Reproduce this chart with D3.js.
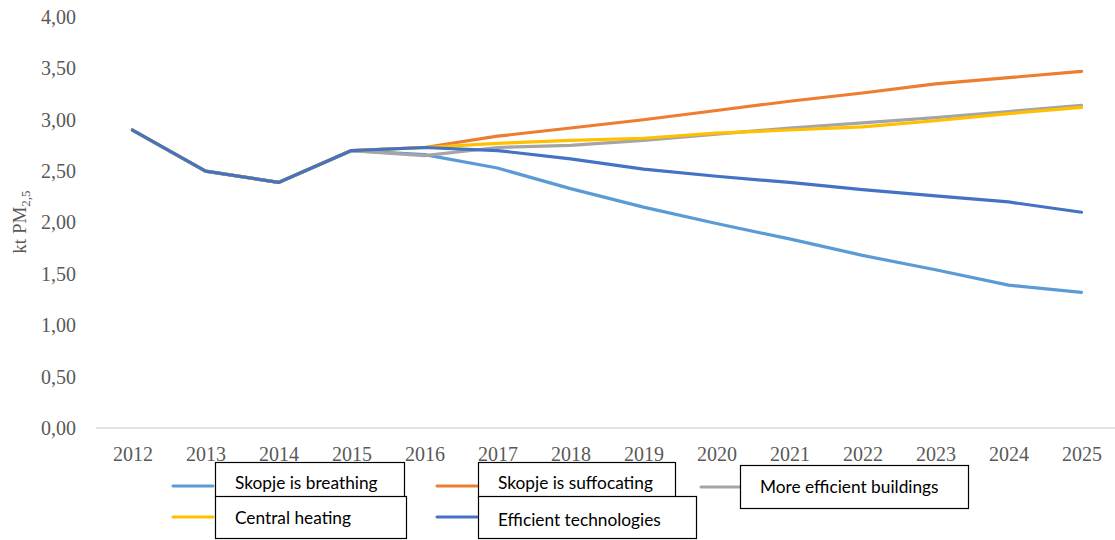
<!DOCTYPE html>
<html>
<head>
<meta charset="utf-8">
<script src="https://cdn.jsdelivr.net/npm/d3@7"></script>
<style>
  html, body { margin: 0; padding: 0; background: #fff; }
  svg { display: block; }
</style>
</head>
<body>
<svg id="chart" width="1115" height="540"></svg>
<script>
// PM2.5 emission scenarios for Skopje, kt per year
const years = ["2012","2013","2014","2015","2016","2017","2018","2019","2020","2021","2022","2023","2024","2025"];
const yTicks = [0, 0.5, 1, 1.5, 2, 2.5, 3, 3.5, 4];

const breathing    = [2.90, 2.50, 2.39, 2.70, 2.66, 2.53, 2.33, 2.15, 1.99, 1.84, 1.68, 1.54, 1.39, 1.32];
const suffocating  = [2.90, 2.50, 2.39, 2.70, 2.73, 2.84, 2.92, 3.00, 3.09, 3.18, 3.26, 3.35, 3.41, 3.47];
const buildings    = [2.90, 2.50, 2.39, 2.70, 2.65, 2.73, 2.75, 2.80, 2.86, 2.92, 2.97, 3.02, 3.08, 3.14];
const heating      = [2.90, 2.50, 2.39, 2.70, 2.73, 2.77, 2.80, 2.82, 2.87, 2.90, 2.93, 2.99, 3.06, 3.12];
const technologies = [2.90, 2.50, 2.39, 2.70, 2.73, 2.70, 2.62, 2.52, 2.45, 2.39, 2.32, 2.26, 2.20, 2.10];

const seriesNames  = ["Skopje is breathing", "Skopje is suffocating", "More efficient buildings", "Central heating", "Efficient technologies"];
const seriesColors = ["#5B9BD5", "#ED7D31", "#A5A5A5", "#FFC000", "#4472C4"];
const seriesValues = [breathing, suffocating, buildings, heating, technologies];

const svg = d3.select("#chart");

const x = d3.scalePoint().domain(years).range([96, 1118]).padding(0.5);
const y = d3.scaleLinear().domain([0, 4]).range([428, 17]);

// category axis baseline and year labels
const xAxis = svg.append("g")
  .attr("transform", `translate(0,${y(0)})`)
  .call(d3.axisBottom(x).tickSize(0).tickPadding(19));
xAxis.select(".domain").attr("stroke", "#D9D9D9").attr("stroke-width", 1.3)
  .attr("d", `M96,0H1115`);
xAxis.selectAll("text")
  .attr("font-family", "'Liberation Serif', serif")
  .attr("font-size", 20)
  .attr("fill", "#595959");

// value axis labels (no line)
const yAxis = svg.append("g")
  .attr("transform", "translate(76,0)")
  .call(d3.axisLeft(y).tickValues(yTicks).tickSize(0).tickPadding(0)
    .tickFormat(d => d3.format(".2f")(d).replace(".", ",")));
yAxis.select(".domain").remove();
yAxis.selectAll("text")
  .attr("font-family", "'Liberation Serif', serif")
  .attr("font-size", 20)
  .attr("fill", "#595959");

// axis title kt PM2,5
const title = svg.append("text")
  .attr("transform", "translate(26,222) rotate(-90)")
  .attr("text-anchor", "middle")
  .attr("font-family", "'Liberation Serif', serif")
  .attr("font-size", 19)
  .attr("fill", "#595959");
title.append("tspan").text("kt PM");
title.append("tspan").attr("font-size", 13).attr("dy", 4).text("2,5");

// scenario lines
const line = d3.line()
  .x((d, i) => x(years[i]))
  .y(d => y(d));

svg.append("g").selectAll("path")
  .data(seriesValues)
  .join("path")
  .attr("d", line)
  .attr("fill", "none")
  .attr("stroke", (d, i) => seriesColors[i])
  .attr("stroke-width", 3.2)
  .attr("stroke-linejoin", "round")
  .attr("stroke-linecap", "round");

// legend: swatch line followed by a framed label
const legendItems = [
  { s: 0, lx: 173, ly: 486, box: [215, 462, 189, 35], tx: 235, ty: 489 },
  { s: 1, lx: 437, ly: 486, box: [478, 462, 197, 35], tx: 498, ty: 489 },
  { s: 2, lx: 701, ly: 487, box: [740, 465, 228, 43], tx: 760, ty: 493 },
  { s: 3, lx: 173, ly: 517, box: [215, 496, 191, 42], tx: 235, ty: 524 },
  { s: 4, lx: 437, ly: 517, box: [478, 496, 218, 42], tx: 498, ty: 526 }
];

const legend = svg.append("g");
legendItems.forEach(it => {
  legend.append("line")
    .attr("x1", it.lx).attr("x2", it.lx + 40)
    .attr("y1", it.ly).attr("y2", it.ly)
    .attr("stroke", seriesColors[it.s])
    .attr("stroke-width", 3)
    .attr("stroke-linecap", "round");
  legend.append("rect")
    .attr("x", it.box[0] + 0.5).attr("y", it.box[1] + 0.5)
    .attr("width", it.box[2]).attr("height", it.box[3])
    .attr("fill", "#fff")
    .attr("stroke", "#000")
    .attr("stroke-width", 1.2);
  legend.append("text")
    .attr("x", it.tx).attr("y", it.ty)
    .attr("font-family", "Lato, 'Liberation Sans', sans-serif")
    .attr("font-size", 17.3)
    .attr("fill", "#000")
    .text(seriesNames[it.s]);
});
</script>
</body>
</html>
